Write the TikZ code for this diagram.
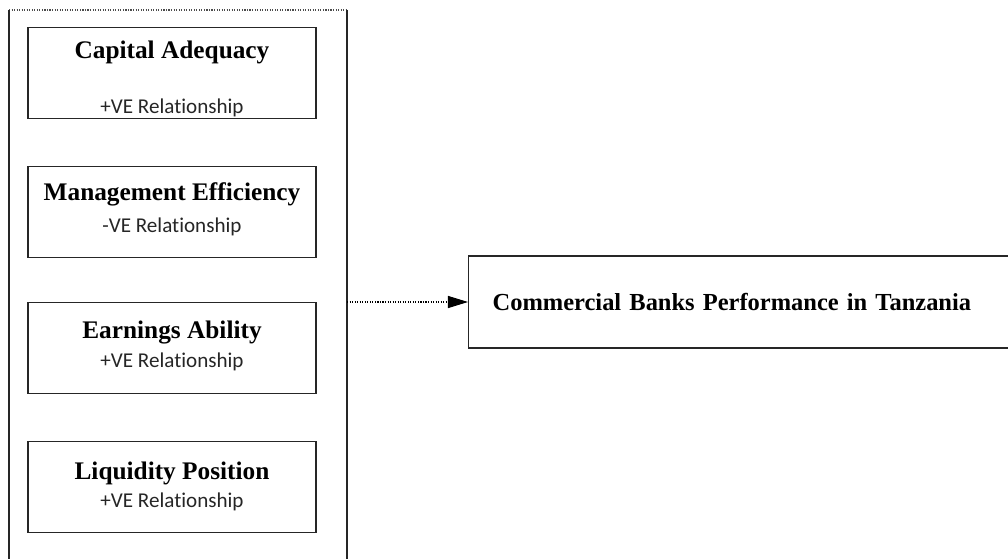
\documentclass[tikz,border=0pt]{standalone}
\usepackage{fontspec}
\setmainfont{Liberation Serif}
\newfontfamily\calibrifont[Ligatures=NoCommon]{Carlito}
\usepackage{tikz}
\usetikzlibrary{arrows.meta,positioning,calc}

\begin{document}
\begin{tikzpicture}[
    x=0.025cm, y=-0.025cm,
    factor/.style={rectangle, draw=black!85, line width=0.9pt, minimum width=7.2cm, minimum height=2.28cm},
    title/.style={font=\fontsize{18}{20}\selectfont\bfseries, inner sep=0pt},
    effect/.style={font=\calibrifont\fontsize{15}{17}\selectfont, text=black!85, inner sep=0pt},
    outcome/.style={rectangle, draw=black!85, line width=0.9pt, anchor=west, minimum height=2.3cm, text width=13.3cm, inner xsep=0.6cm, align=left, font=\fontsize{17.4}{20}\selectfont\bfseries},
    arrow/.style={densely dotted, line width=0.8pt, -{Triangle[length=0.5cm, width=0.3cm]}}
]
\useasboundingbox (0,0) rectangle (1008,559);

% CAMEL factors frame (open at the bottom)
\coordinate (frameTL) at (9,10);
\coordinate (frameTR) at (347,10);
\coordinate (frameBL) at (9,559);
\coordinate (frameBR) at (347,559);
\coordinate (frameR) at (347,302);
\draw[densely dotted, black!70, line width=0.8pt] (frameTL) -- (frameTR);
\draw[black!85, line width=0.9pt] (frameTL) -- (frameBL);
\draw[black!85, line width=0.9pt] (frameTR) -- (frameBR);

% Factor boxes
\node[factor] (capital) at (172,73) {};
\node[factor] (mgmt) at (172,212) {};
\node[factor] (earnings) at (172,348) {};
\node[factor] (liquidity) at (172,487) {};

\node[title] (capitalT) at (172,52) {Capital Adequacy};
\node[effect] (capitalE) at (172,108) {+VE Relationship};
\node[title] (mgmtT) at (172,194) {Management Efficiency};
\node[effect] (mgmtE) at (172,227) {-VE Relationship};
\node[title] (earningsT) at (172,333) {Earnings Ability};
\node[effect] (earningsE) at (172,362) {+VE Relationship};
\node[title] (liquidityT) at (172,473) {Liquidity Position};
\node[effect] (liquidityE) at (172,502) {+VE Relationship};

% Dependent variable
\node[outcome] (perf) at (468,302) {Commercial Banks Performance in Tanzania};

% Link
\draw[arrow] (frameR) -- (perf.west);

\end{tikzpicture}
\end{document}
